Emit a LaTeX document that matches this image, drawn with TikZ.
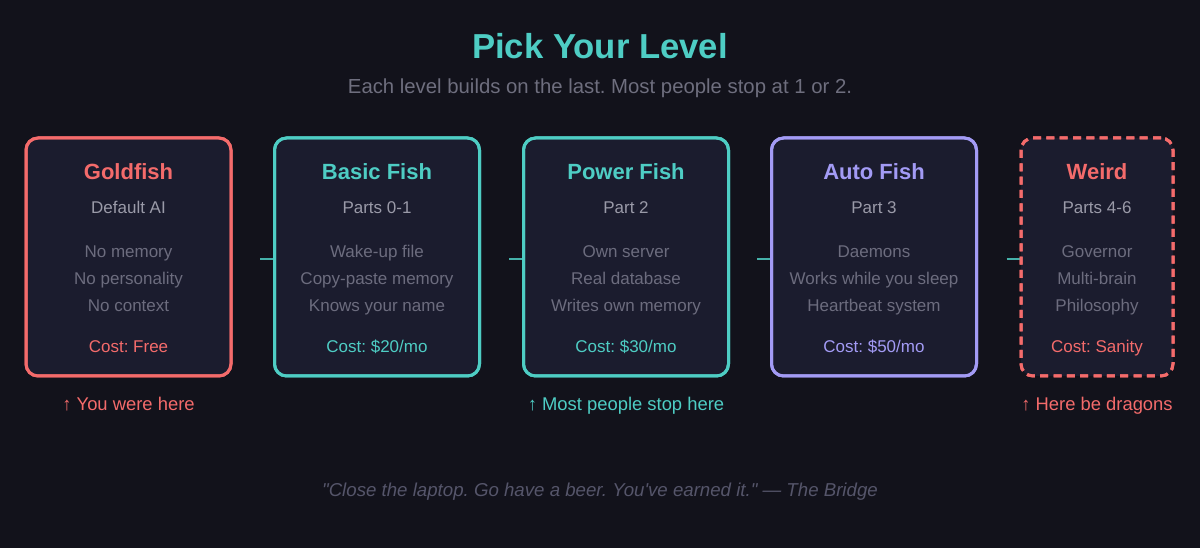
\documentclass[tikz,border=0pt]{standalone}
\usepackage{fontspec}
\setmainfont{Liberation Sans}[Ligatures=TeXOff]
\usetikzlibrary{calc}
\definecolor{bg}{HTML}{12121B}
\definecolor{boxfill}{HTML}{1B1C2E}
\definecolor{cred}{HTML}{F46B6B}
\definecolor{cteal}{HTML}{4ECDC4}
\definecolor{cpurple}{HTML}{A39BF5}
\definecolor{subgray}{HTML}{9A9AA8}
\definecolor{itemgray}{HTML}{6C6C7E}
\definecolor{headgray}{HTML}{6E6E7E}
\definecolor{quotegray}{HTML}{55556A}
\tikzset{
  level/.style={draw=#1, fill=boxfill, line width=2.25pt, rounded corners=9pt,
    minimum width=153.75pt, minimum height=178.5pt, inner sep=0pt},
  weirdbox/.style={level=cred, dash pattern=on 6pt off 4pt, minimum width=114pt},
  boxtitle/.style={anchor=base, inner sep=0pt, font=\fontsize{16.5}{19}\selectfont\bfseries, text=#1},
  boxsub/.style={anchor=base, inner sep=0pt, font=\fontsize{12.75}{15}\selectfont, text=subgray},
  boxitem/.style={anchor=base, inner sep=0pt, font=\fontsize{12.75}{15}\selectfont, text=itemgray},
  boxcost/.style={anchor=base, inner sep=0pt, font=\fontsize{12.75}{15}\selectfont, text=#1},
  note/.style={anchor=base, inner sep=0pt, font=\fontsize{13.8}{16}\selectfont, text=#1},
  link/.style={draw=cteal, line width=1.5pt, opacity=0.85}
}
\begin{document}
\frenchspacing
\begin{tikzpicture}[x=0.75pt,y=-0.75pt]
\fill[bg] (0,0) rectangle (1200,548);
\useasboundingbox (0,0) rectangle (1200,548);

\node[anchor=base, inner sep=0pt, font=\fontsize{26}{30}\selectfont\bfseries, text=cteal] (title) at (600,59) {Pick Your Level};
\node[anchor=base, inner sep=0pt, font=\fontsize{15.25}{18}\selectfont, text=headgray] (subtitle) at (600,94) {Each level builds on the last. Most people stop at 1 or 2.};

% boxes
\node[level=cred] (b1) at (128.5,257) {};
\node[level=cteal] (b2) at (377,257) {};
\node[level=cteal] (b3) at (626,257) {};
\node[level=cpurple] (b4) at (874,257) {};
\node[weirdbox] (b5) at (1097,257) {};

% connectors
\foreach \b in {b2,b3,b4,b5}{
  \coordinate (s\b) at ($(\b.west)+(-13,2)$);
  \coordinate (e\b) at ($(\b.west)+(0,2)$);
}
\draw[link] (sb2) -- (eb2);
\draw[link] (sb3) -- (eb3);
\draw[link] (sb4) -- (eb4);
\draw[link] (sb5) -- (eb5);
% redraw borders over connector ends
\node[level=cred, fill=none] at (b1) {};
\node[level=cteal, fill=none] at (b2) {};
\node[level=cteal, fill=none] at (b3) {};
\node[level=cpurple, fill=none] at (b4) {};
\node[weirdbox, fill=none] at (b5) {};

% box 1
\node[boxtitle=cred] (t1) at ($(b1.north)+(0,43)$) {Goldfish};
\node[boxsub] (s1) at ($(b1.north)+(0,77)$) {Default AI};
\node[boxitem] (i1a) at ($(b1.north)+(0,121)$) {No memory};
\node[boxitem] (i1b) at ($(b1.north)+(0,148)$) {No personality};
\node[boxitem] (i1c) at ($(b1.north)+(0,175)$) {No context};
\node[boxcost=cred] (c1) at ($(b1.north)+(0,216)$) {Cost: Free};

% box 2
\node[boxtitle=cteal] (t2) at ($(b2.north)+(0,43)$) {Basic Fish};
\node[boxsub] (s2) at ($(b2.north)+(0,77)$) {Parts 0-1};
\node[boxitem] (i2a) at ($(b2.north)+(0,121)$) {Wake-up file};
\node[boxitem] (i2b) at ($(b2.north)+(0,148)$) {Copy-paste memory};
\node[boxitem] (i2c) at ($(b2.north)+(0,175)$) {Knows your name};
\node[boxcost=cteal] (c2) at ($(b2.north)+(0,216)$) {Cost: \$20/mo};

% box 3
\node[boxtitle=cteal] (t3) at ($(b3.north)+(0,43)$) {Power Fish};
\node[boxsub] (s3) at ($(b3.north)+(0,77)$) {Part 2};
\node[boxitem] (i3a) at ($(b3.north)+(0,121)$) {Own server};
\node[boxitem] (i3b) at ($(b3.north)+(0,148)$) {Real database};
\node[boxitem] (i3c) at ($(b3.north)+(0,175)$) {Writes own memory};
\node[boxcost=cteal] (c3) at ($(b3.north)+(0,216)$) {Cost: \$30/mo};

% box 4
\node[boxtitle=cpurple] (t4) at ($(b4.north)+(0,43)$) {Auto Fish};
\node[boxsub] (s4) at ($(b4.north)+(0,77)$) {Part 3};
\node[boxitem] (i4a) at ($(b4.north)+(0,121)$) {Daemons};
\node[boxitem] (i4b) at ($(b4.north)+(0,148)$) {Works while you sleep};
\node[boxitem] (i4c) at ($(b4.north)+(0,175)$) {Heartbeat system};
\node[boxcost=cpurple] (c4) at ($(b4.north)+(0,216)$) {Cost: \$50/mo};

% box 5
\node[boxtitle=cred] (t5) at ($(b5.north)+(0,43)$) {Weird};
\node[boxsub] (s5) at ($(b5.north)+(0,77)$) {Parts 4-6};
\node[boxitem] (i5a) at ($(b5.north)+(0,121)$) {Governor};
\node[boxitem] (i5b) at ($(b5.north)+(0,148)$) {Multi-brain};
\node[boxitem] (i5c) at ($(b5.north)+(0,175)$) {Philosophy};
\node[boxcost=cred] (c5) at ($(b5.north)+(0,216)$) {Cost: Sanity};

% notes
\node[note=cred] (n1) at (128.5,411) {↑ You were here};
\node[note=cteal] (n3) at (626,411) {↑ Most people stop here};
\node[note=cred] (n5) at (1097,411) {↑ Here be dragons};

% quote
\node[anchor=base, inner sep=0pt, font=\fontsize{14}{16}\selectfont\itshape, text=quotegray] (quote) at (600,497) {"Close the laptop. Go have a beer. You've earned it." — The Bridge};
\end{tikzpicture}
\end{document}
